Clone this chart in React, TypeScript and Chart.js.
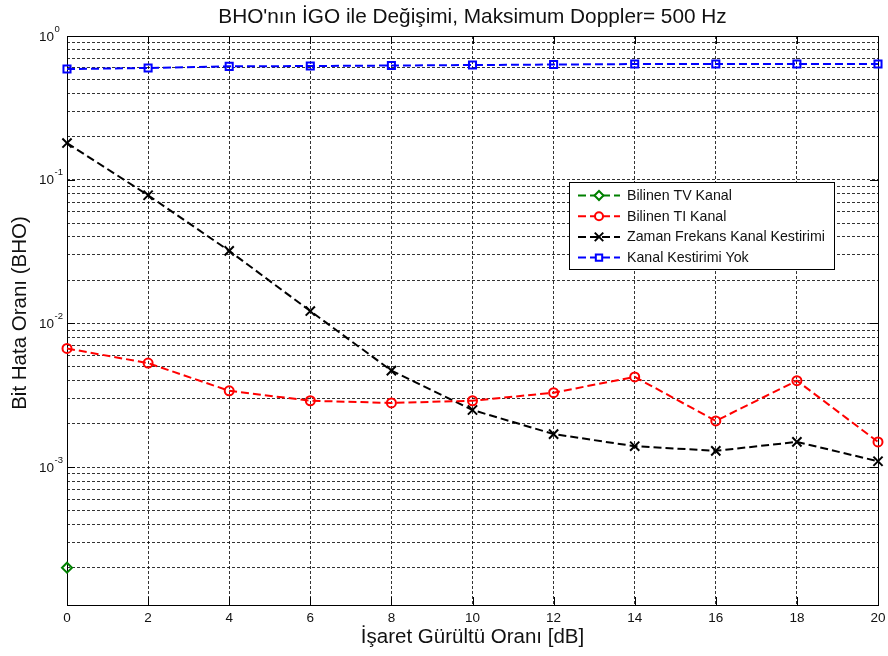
import { useEffect, useRef } from 'react';
import { Chart, registerables } from 'chart.js';
import { drawPoint } from 'chart.js/helpers';

Chart.register(...registerables);

// Signal-to-noise ratio values (dB) on the x axis
const snrDb = [0, 2, 4, 6, 8, 10, 12, 14, 16, 18, 20];

// Bit error rates per receiver configuration
const bilinenTV = [2e-4]; // only the 0 dB point is non-zero
const bilinenTI = [0.0067, 0.0053, 0.0034, 0.0029, 0.0028, 0.0029, 0.0033, 0.00425, 0.0021, 0.004, 0.0015];
const zamanFrekans = [0.18, 0.078, 0.032, 0.0122, 0.0047, 0.0025, 0.0017, 0.0014, 0.0013, 0.0015, 0.0011];
const kestirimYok = [0.589, 0.599, 0.615, 0.618, 0.623, 0.628, 0.633, 0.638, 0.638, 0.638, 0.638];

const seriesNames = ['Bilinen TV Kanal', 'Bilinen TI Kanal', 'Zaman Frekans Kanal Kestirimi', 'Kanal Kestirimi Yok'];
const seriesColors = ['#008000', '#ff0000', '#000000', '#0000ff'];

const xTicks = [0, 2, 4, 6, 8, 10, 12, 14, 16, 18, 20];
const yDecades = [-4, -3, -2, -1, 0];
const yMin = 1.1e-4;
const yMax = 1;

const titleText = "BHO'nın İGO ile Değişimi, Maksimum Doppler= 500 Hz";
const xTitle = 'İşaret Gürültü Oranı [dB]';
const yTitle = 'Bit Hata Oranı (BHO)';

const FONT = "'Liberation Sans', Arial, Helvetica, sans-serif";
const TEXT = '#111';
const GRID = 'rgba(0,0,0,0.8)';

const toPoints = (vals: number[]) => vals.map((v, i) => ({ x: snrDb[i], y: v }));

// log grid: 1..9 x 10^e inside the axis range
const yTickValues: number[] = [];
for (const e of yDecades) {
  for (let m = 1; m <= 9; m++) {
    const v = m * Math.pow(10, e);
    if (v >= yMin && v <= yMax) yTickValues.push(v);
  }
}

const decorPlugin = {
  id: 'decor',
  beforeDatasetsDraw(chart: any) {
    const { ctx, chartArea: a, scales } = chart;
    const x = scales.x;
    const y = scales.y;
    ctx.save();
    ctx.strokeStyle = '#000';
    ctx.lineWidth = 1;
    ctx.setLineDash([]);
    ctx.beginPath();
    for (const v of xTicks) {
      const px = Math.round(x.getPixelForValue(v)) + 0.5;
      ctx.moveTo(px, a.bottom);
      ctx.lineTo(px, a.bottom - 8);
      ctx.moveTo(px, a.top);
      ctx.lineTo(px, a.top + 8);
    }
    for (const e of yDecades) {
      const v = Math.pow(10, e);
      if (v < yMin || v > yMax) continue;
      const py = Math.round(y.getPixelForValue(v)) + 0.5;
      ctx.moveTo(a.left, py);
      ctx.lineTo(a.left + 8, py);
      ctx.moveTo(a.right, py);
      ctx.lineTo(a.right - 8, py);
    }
    ctx.stroke();
    ctx.strokeRect(Math.round(a.left) + 0.5, Math.round(a.top) + 0.5, Math.round(a.right - a.left), Math.round(a.bottom - a.top));
    ctx.restore();
  },
  afterDraw(chart: any) {
    const { ctx, chartArea: a, scales } = chart;
    const x = scales.x;
    const y = scales.y;
    ctx.save();
    ctx.fillStyle = TEXT;

    // x tick labels
    ctx.font = `13.5px ${FONT}`;
    ctx.textAlign = 'center';
    ctx.textBaseline = 'middle';
    for (const v of xTicks) {
      ctx.fillText(String(v), x.getPixelForValue(v), a.bottom + 13);
    }

    // y decade labels: 10 with superscript exponent
    for (const e of yDecades) {
      const v = Math.pow(10, e);
      if (v < yMin || v > yMax) continue;
      const py = y.getPixelForValue(v);
      ctx.font = `13.5px ${FONT}`;
      ctx.textAlign = 'right';
      ctx.textBaseline = 'middle';
      ctx.fillText('10', 54, py + 1);
      ctx.font = `9.5px ${FONT}`;
      ctx.textAlign = 'left';
      ctx.fillText(String(e), 54.5, py - 7);
    }

    // title and axis titles
    ctx.font = `20.8px ${FONT}`;
    ctx.textAlign = 'center';
    ctx.textBaseline = 'middle';
    ctx.fillText(titleText, (a.left + a.right) / 2, 17);
    ctx.font = `20.5px ${FONT}`;
    ctx.fillText(xTitle, (a.left + a.right) / 2, 637);
    ctx.save();
    ctx.translate(20, 313);
    ctx.rotate(-Math.PI / 2);
    ctx.fillText(yTitle, 0, 0);
    ctx.restore();

    // legend box
    const lx = 569.5, ly = 182.5, lw = 265, lh = 87;
    ctx.fillStyle = '#fff';
    ctx.fillRect(lx, ly, lw, lh);
    ctx.strokeStyle = '#000';
    ctx.lineWidth = 1;
    ctx.setLineDash([]);
    ctx.strokeRect(lx, ly, lw, lh);
    chart.data.datasets.forEach((ds: any, i: number) => {
      const ry = 195.5 + i * 20.7;
      ctx.save();
      ctx.strokeStyle = ds.borderColor;
      ctx.lineWidth = ds.borderWidth;
      ctx.setLineDash(ds.borderDash);
      ctx.beginPath();
      ctx.moveTo(578, ry);
      ctx.lineTo(620, ry);
      ctx.stroke();
      ctx.setLineDash([]);
      ctx.lineWidth = ds.pointBorderWidth;
      ctx.fillStyle = '#fff';
      drawPoint(ctx, { pointStyle: ds.pointStyle, radius: ds.pointRadius - 0.5, borderWidth: ds.pointBorderWidth, rotation: 0 } as any, 599, ry);
      ctx.restore();
      ctx.fillStyle = TEXT;
      ctx.font = `14.2px ${FONT}`;
      ctx.textAlign = 'left';
      ctx.textBaseline = 'middle';
      ctx.fillText(ds.label, 627, ry + 0.5);
    });
    ctx.restore();
  },
};

function makeDataset(i: number, vals: number[], pointStyle: string, radius: number) {
  return {
    label: seriesNames[i],
    data: toPoints(vals),
    borderColor: seriesColors[i],
    backgroundColor: 'rgba(0,0,0,0)',
    borderWidth: 2,
    borderDash: [8, 4],
    pointStyle,
    pointRadius: radius,
    pointBorderWidth: 2,
    pointBorderColor: seriesColors[i],
    pointBackgroundColor: 'rgba(0,0,0,0)',
    fill: false,
    tension: 0,
    clip: false,
  };
}

export default function App() {
  const canvasRef = useRef<HTMLCanvasElement | null>(null);

  useEffect(() => {
    const canvas = canvasRef.current;
    if (!canvas) return;
    const chart = new Chart(canvas, {
      type: 'line',
      data: {
        datasets: [
          makeDataset(0, bilinenTV, 'rectRot', 5),
          makeDataset(1, bilinenTI, 'circle', 4.5),
          makeDataset(2, zamanFrekans, 'crossRot', 6.5),
          makeDataset(3, kestirimYok, 'rect', 5),
        ] as any,
      },
      options: {
        responsive: false,
        animation: false,
        events: [],
        layout: { padding: { top: 36, right: 10, left: 0, bottom: 0 } },
        plugins: {
          legend: { display: false },
          title: { display: false },
          tooltip: { enabled: false },
        },
        scales: {
          x: {
            type: 'linear',
            min: 0,
            max: 20,
            ticks: { stepSize: 2, display: false },
            grid: { color: GRID, lineWidth: 1, drawTicks: false },
            border: { display: false, dash: [3, 2] },
            afterFit: (s: any) => { s.height = 51; },
          },
          y: {
            type: 'logarithmic',
            min: yMin,
            max: yMax,
            ticks: { display: false, autoSkip: false },
            afterBuildTicks: (s: any) => {
              s.ticks = yTickValues.map((v) => ({ value: v }));
            },
            grid: { color: GRID, lineWidth: 1, drawTicks: false },
            border: { display: false, dash: [3, 2] },
            afterFit: (s: any) => { s.width = 67; },
          },
        } as any,
      },
      plugins: [decorPlugin],
    });
    return () => chart.destroy();
  }, []);

  return (
    <div style={{ position: 'absolute', left: 0, top: 0, width: 888, height: 656, background: '#fff' }}>
      <canvas ref={canvasRef} width={888} height={656} style={{ display: 'block' }} />
    </div>
  );
}
